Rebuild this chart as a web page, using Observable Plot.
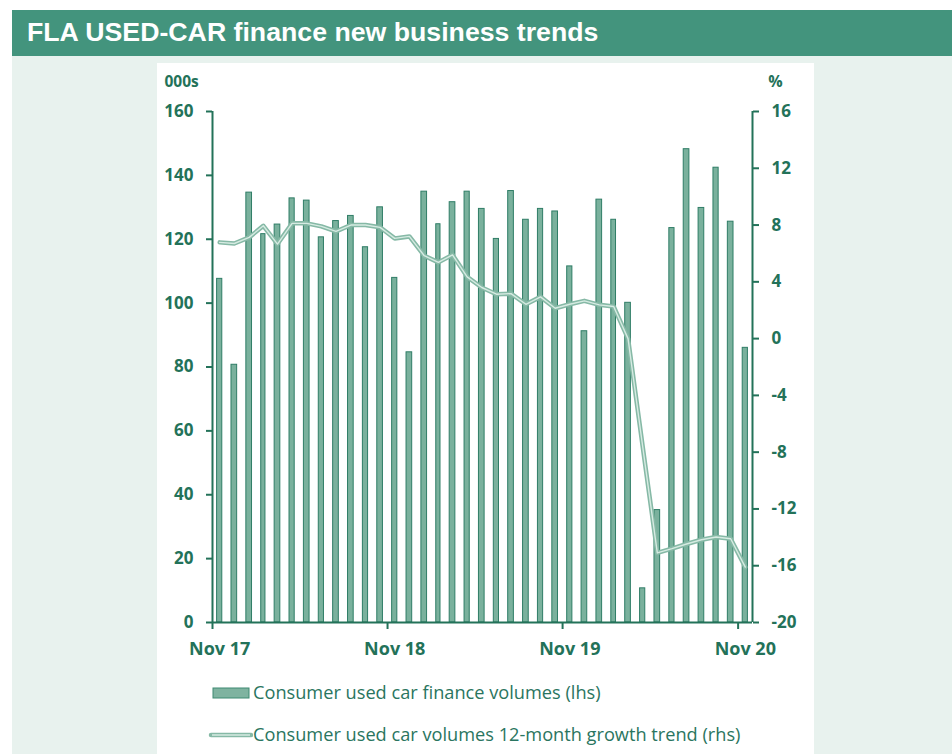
<!DOCTYPE html>
<html>
<head>
<meta charset="utf-8">
<script src="https://cdn.jsdelivr.net/npm/d3@7"></script>
<script src="https://cdn.jsdelivr.net/npm/@observablehq/plot@0.6"></script>
<style>
  html, body { margin: 0; padding: 0; background: #ffffff; width: 952px; height: 754px; overflow: hidden; }
  #band { position: absolute; left: 12px; top: 10px; width: 940px; height: 46px; background: #43947d; }
  #title { position: absolute; left: 15px; top: 7px; font-family: "Liberation Sans", Arial, sans-serif; font-weight: bold; font-size: 26.7px; color: #ffffff; white-space: nowrap; }
  #mint { position: absolute; left: 12px; top: 56px; width: 940px; height: 698px; background: #e8f2ee; }
  #panel { position: absolute; left: 157px; top: 63px; width: 657px; height: 691px; background: #ffffff; }
  #chart { position: absolute; left: 0; top: 0; }
  .leg { position: absolute; left: 0; font-family: "Open Sans", sans-serif; font-size: 18.2px; color: #2a7560; white-space: nowrap; }
  .leg span { position: absolute; left: 96px; top: -13px; }
</style>
</head>
<body>
<div id="band"><div id="title">FLA USED-CAR finance new business trends</div></div>
<div id="mint"></div>
<div id="panel">
  <div id="chart"></div>
  <div class="leg" style="top:630px;">
    <svg width="96" height="20" style="position:absolute;left:0;top:-10px"><rect x="56" y="5" width="36" height="10" fill="#7fb3a0" stroke="#3f8a72" stroke-width="1"></rect></svg>
    <span>Consumer used car finance volumes (lhs)</span>
  </div>
  <div class="leg" style="top:672px;">
    <svg width="96" height="20" style="position:absolute;left:0;top:-10px"><line x1="54" y1="10" x2="94" y2="10" stroke="#86b9a6" stroke-width="4.5" stroke-linecap="round"></line><line x1="55" y1="10" x2="93" y2="10" stroke="#d6ebe2" stroke-width="1.5"></line></svg>
    <span>Consumer used car volumes 12-month growth trend (rhs)</span>
  </div>
</div>
<script>
// Month categories (first day of each month)
const months = [
  "2017-11","2017-12","2018-01","2018-02","2018-03","2018-04","2018-05","2018-06","2018-07","2018-08","2018-09","2018-10",
  "2018-11","2018-12","2019-01","2019-02","2019-03","2019-04","2019-05","2019-06","2019-07","2019-08","2019-09","2019-10",
  "2019-11","2019-12","2020-01","2020-02","2020-03","2020-04","2020-05","2020-06","2020-07","2020-08","2020-09","2020-10",
  "2020-11"
];
// Consumer used car finance volumes (000s, lhs)
const volumes = [
  107.6, 80.7, 134.6, 121.6, 124.6, 132.8, 132.1, 120.6, 125.7, 127.3, 117.5, 130.0,
  107.9, 84.6, 134.9, 124.7, 131.6, 134.9, 129.5, 120.1, 135.1, 126.1, 129.5, 128.7,
  111.5, 91.2, 132.4, 126.1, 100.1, 10.7, 35.2, 123.5, 148.2, 129.8, 142.4, 125.5,
  86.0
];
// 12-month growth trend (%, rhs)
const growth = [
  6.78, 6.70, 7.13, 7.95, 6.66, 8.12, 8.12, 7.91, 7.55, 8.0, 8.0, 7.84,
  7.06, 7.2, 5.84, 5.37, 5.9, 4.35, 3.6, 3.13, 3.17, 2.42, 2.94, 2.14,
  2.42, 2.66, 2.38, 2.26, 0.0, -7.6, -15.1, -14.8, -14.47, -14.17, -13.98, -14.1,
  -16.1
];
const lhsTicks = [0, 20, 40, 60, 80, 100, 120, 140, 160];
const rhsTicks = [-20, -16, -12, -8, -4, 0, 4, 8, 12, 16];
const xTickMonths = ["2017-11", "2018-11", "2019-11", "2020-11"];

const parse = d3.utcParse("%Y-%m");
const lhsMax = 160, rhsMin = -20, rhsMax = 16;
const toL = v => (v - rhsMin) * lhsMax / (rhsMax - rhsMin);
const fromL = d => d * (rhsMax - rhsMin) / lhsMax + rhsMin;
const mid = d => new Date((+d + +d3.utcMonth.offset(d, 1)) / 2);

const data = months.map((m, i) => {
  const date = parse(m);
  return {date, end: d3.utcMonth.offset(date, 1), mid: mid(date), vol: volumes[i], g: growth[i]};
});
const start = parse(months[0]);
const end = d3.utcMonth.offset(parse(months[months.length - 1]), 1);
const tickStarts = xTickMonths.map(parse);
const tickMids = tickStarts.map(mid);

const axisColor = "#237259";
const fmt = d3.utcFormat("%b %y");

const chart = Plot.plot({
  width: 657,
  height: 600,
  marginLeft: 55,
  marginRight: 62,
  marginTop: 48,
  marginBottom: 41,
  style: {fontFamily: "'Open Sans', sans-serif", fontSize: "17px", fontWeight: "bold", color: axisColor, background: "transparent", overflow: "visible"},
  x: {type: "utc", domain: [start, end]},
  y: {domain: [0, lhsMax]},
  marks: [
    Plot.rectY(data, {x1: "date", x2: "end", y: "vol", insetLeft: 4.6, insetRight: 4.6, fill: "#7ab19d", stroke: "#2f7d66", strokeWidth: 1}),
    Plot.lineY(data, {x: "mid", y: d => toL(d.g), stroke: "#86b9a6", strokeWidth: 4.5, strokeLinejoin: "round"}),
    Plot.lineY(data, {x: "mid", y: d => toL(d.g), stroke: "#d6ebe2", strokeWidth: 1.4, strokeLinejoin: "round"}),
    Plot.ruleY([0], {stroke: axisColor, strokeWidth: 2}),
    Plot.ruleX([start], {y1: 0, y2: lhsMax, stroke: axisColor, strokeWidth: 2}),
    Plot.ruleX([end], {y1: 0, y2: lhsMax, stroke: axisColor, strokeWidth: 2}),
    Plot.axisY(lhsTicks, {anchor: "left", tickSize: 6, tickPadding: 13, strokeWidth: 2, label: null, fontSize: 17}),
    Plot.axisY(rhsTicks.map(toL), {anchor: "right", tickSize: 6, tickPadding: 13, strokeWidth: 2, label: null, fontSize: 17,
      tickFormat: d => String(Math.round(fromL(d)))}),
    Plot.axisX(tickStarts, {anchor: "bottom", tickSize: 7, strokeWidth: 2, tickFormat: () => "", label: null}),
    Plot.axisX(tickMids, {anchor: "bottom", tickSize: 0, tickPadding: 20, tickFormat: fmt, label: null, fontSize: 18}),
    Plot.text(["000s"], {frameAnchor: "top-left", dx: -48, dy: -29, textAnchor: "start", lineAnchor: "middle", fontSize: 15.5, fill: axisColor}),
    Plot.text(["%"], {frameAnchor: "top-right", dx: 23, dy: -30, textAnchor: "middle", lineAnchor: "middle", fontSize: 16, fill: axisColor})
  ]
});
document.getElementById("chart").appendChild(chart);
</script>
</body>
</html>
